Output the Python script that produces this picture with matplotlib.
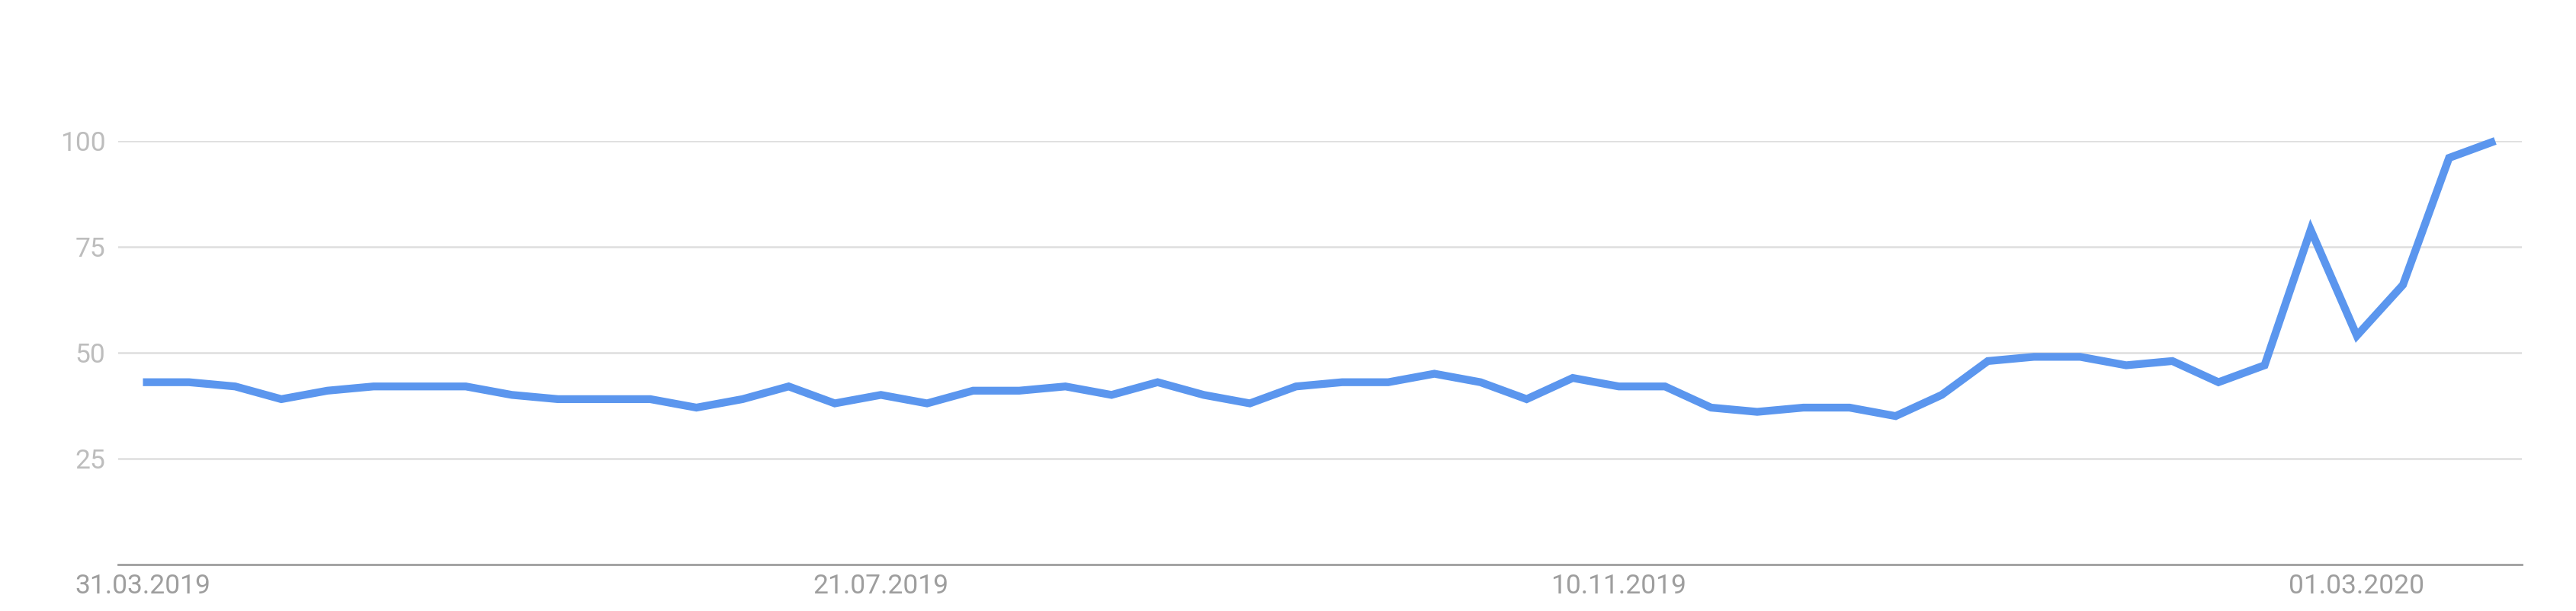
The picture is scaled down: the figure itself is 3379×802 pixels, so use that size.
import pandas as pd
import matplotlib.pyplot as plt
import matplotlib.dates as mdates

plt.rcParams['font.family'] = ['Roboto', 'DejaVu Sans']

# weekly interest values
start_date = '2019-03-31'
values = [43, 43, 42, 39, 41, 42, 42, 42, 40, 39,
          39, 39, 37, 39, 42, 38, 40, 38, 41, 41,
          42, 40, 43, 40, 38, 42, 43, 43, 45, 43,
          39, 44, 42, 42, 37, 36, 37, 37, 35, 40,
          48, 49, 49, 47, 48, 43, 47, 79, 54, 66,
          96, 100]
tick_labels = ['31.03.2019', '21.07.2019', '10.11.2019', '01.03.2020']
y_ticks = [25, 50, 75, 100]

dates = pd.date_range(start_date, periods=len(values), freq='7D')
tick_dates = pd.to_datetime(tick_labels, format='%d.%m.%Y')

W, H = 3379, 802
fig = plt.figure(figsize=(W / 100, H / 100), dpi=100)
ax = fig.add_axes([155 / W, 1 - 740.6 / H, (3308 - 155) / W, (740.6 - 185) / H])

ax.plot(dates, values, color='#5b96ee', linewidth=7.4, solid_joinstyle='miter',
        solid_capstyle='butt', clip_on=False, zorder=3)

ax.set_ylim(0, 100)
ax.set_xlim(dates[0] - pd.Timedelta(days=3.76), dates[-1] + pd.Timedelta(days=4.05))

ax.set_yticks(y_ticks)
ax.set_yticklabels([str(v) for v in y_ticks])
ax.yaxis.grid(True, color='#dedede', linewidth=1.8)
ax.set_axisbelow(True)
ax.tick_params(axis='y', length=0, pad=12, labelsize=25.5, labelcolor='#bdbdbd')

ax.set_xticks(tick_dates)
ax.set_xticklabels(tick_labels)
ax.tick_params(axis='x', length=0, pad=9, labelsize=25.5, labelcolor='#9e9e9e')

for side in ['top', 'right', 'left']:
    ax.spines[side].set_visible(False)
ax.spines['bottom'].set_color('#9e9e9e')
ax.spines['bottom'].set_linewidth(2)

fig.savefig('out.png', dpi=100, facecolor='white')
